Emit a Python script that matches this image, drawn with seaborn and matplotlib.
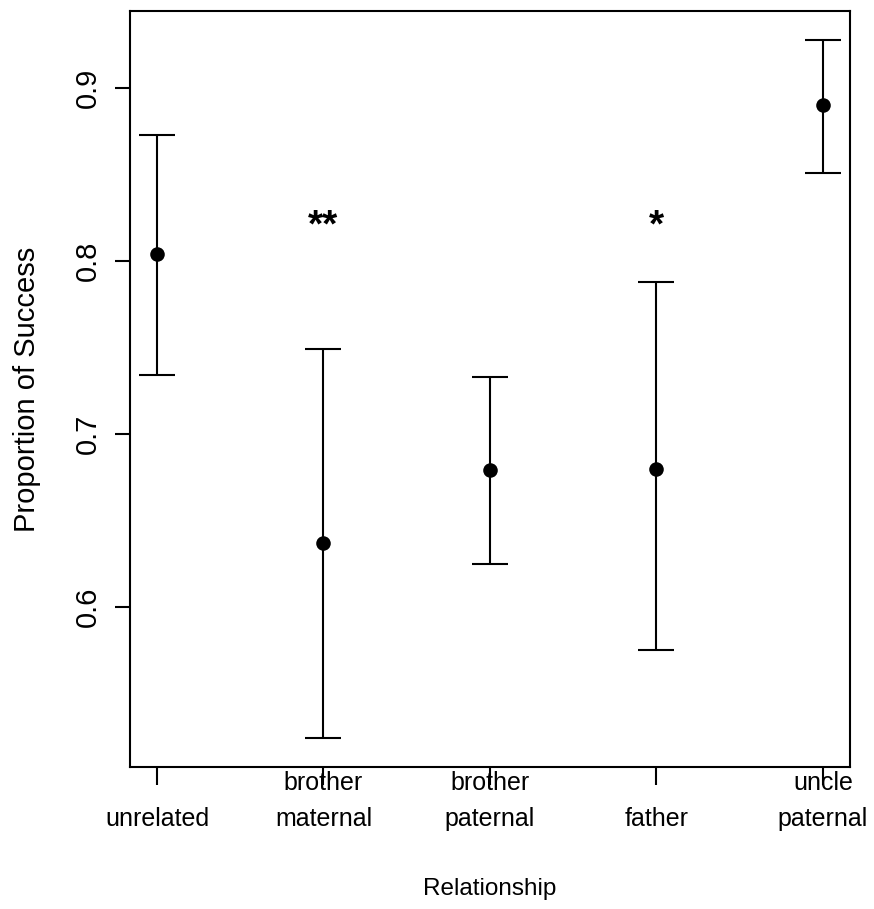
import matplotlib
matplotlib.use("Agg")
import matplotlib.pyplot as plt
import seaborn as sns
import pandas as pd

categories = ["unrelated", "brother maternal", "brother paternal", "father", "uncle paternal"]
tick_labels = ["\nunrelated", "brother\nmaternal", "brother\npaternal", "\nfather", "uncle\npaternal"]
means = [0.804, 0.637, 0.679, 0.680, 0.890]
lower = [0.734, 0.524, 0.625, 0.575, 0.851]
upper = [0.873, 0.749, 0.733, 0.788, 0.928]
sig_labels = ["", "**", "", "*", ""]
sig_y = 0.82

sns.set_style("ticks")
plt.rcParams["font.family"] = ["Liberation Sans", "DejaVu Sans"]
plt.rcParams["text.color"] = "black"
plt.rcParams["axes.labelcolor"] = "black"
plt.rcParams["xtick.color"] = "black"
plt.rcParams["ytick.color"] = "black"

fig = plt.figure(figsize=(8.74, 9.09), dpi=100)
ax = fig.add_axes([0.1487, 0.1562, 0.8238, 0.8317])

df = pd.DataFrame({"rel": categories, "mean": means, "lo": lower, "hi": upper})
pos = list(range(len(categories)))

ax.errorbar(pos, df["mean"], yerr=[df["mean"] - df["lo"], df["hi"] - df["mean"]],
            fmt="none", ecolor="black", elinewidth=1.5, capsize=13, capthick=1.5, zorder=2)
sns.scatterplot(x=pos, y=df["mean"], ax=ax, color="black", s=110, edgecolor="black",
                linewidth=0, zorder=3, legend=False)

for i, lab in enumerate(sig_labels):
    if lab:
        ax.text(i, sig_y, lab, ha="center", va="center", fontsize=28, color="black",
                fontweight="bold")

ax.set_xlim(-0.162, 4.162)
ax.set_ylim(0.5075, 0.9445)
ax.set_xticks(pos)
ax.set_xticklabels(tick_labels, fontsize=18, linespacing=1.6)
ax.set_yticks([0.6, 0.7, 0.8, 0.9])
ax.set_yticklabels(["0.6", "0.7", "0.8", "0.9"], rotation=90, va="center", fontsize=21)
ax.tick_params(axis="x", length=13, width=1.5, color="black", pad=-10)
ax.tick_params(axis="y", length=11, width=1.5, color="black", pad=9)
for s in ax.spines.values():
    s.set_visible(True)
    s.set_linewidth(1.5)
    s.set_color("black")

ax.set_xlabel("Relationship", fontsize=17.5, labelpad=34)
ax.set_ylabel("Proportion of Success", fontsize=21, labelpad=24)

fig.savefig("out.png", dpi=100)
